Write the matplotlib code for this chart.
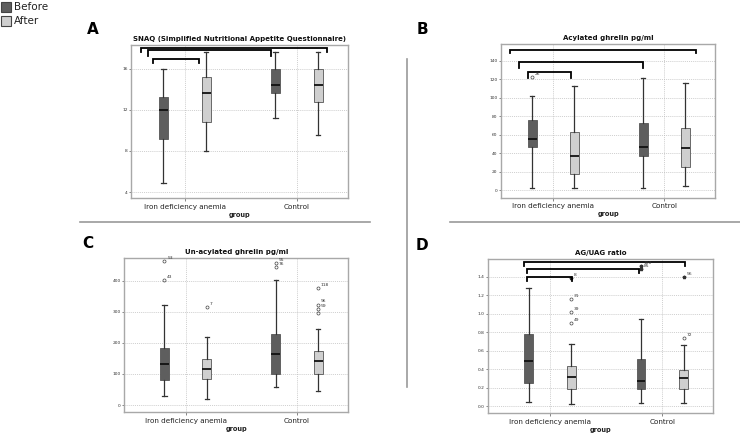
import matplotlib
matplotlib.use("Agg")
import matplotlib.pyplot as plt
from matplotlib.patches import Rectangle

W, H = 740, 433

groups = ["Iron deficiency anemia", "Control"]
series = ["Before", "After"]
colors = {"Before": "#5e5e5e", "After": "#cfcfcf"}

# Panel A: SNAQ
A_title = "SNAQ (Simplified Nutritional Appetite Questionnaire)"
A_ticks = [4, 8, 12, 16]
A_whislo = [4.85, 8.0, 11.2, 9.6]
A_q1 = [9.2, 10.8, 13.6, 12.8]
A_med = [12.0, 13.6, 14.4, 14.4]
A_q3 = [13.2, 15.2, 16.0, 16.0]
A_whishi = [16.0, 17.6, 17.6, 17.6]

# Panel B: Acylated ghrelin
B_title = "Acylated ghrelin pg/ml"
B_ticks = [0, 20, 40, 60, 80, 100, 120, 140]
B_whislo = [3, 2, 2, 4.6]
B_q1 = [47, 17.6, 37.5, 25]
B_med = [55.5, 37, 47, 45.5]
B_q3 = [76, 63, 73, 67]
B_whishi = [102, 112.6, 122, 116]
B_out = [(0, 123, "26", "o")]

# Panel C: Un-acylated ghrelin
C_title = "Un-acylated ghrelin pg/ml"
C_ticks = [0, 100, 200, 300, 400]
C_whislo = [29, 20, 57, 44]
C_q1 = [80, 83, 100, 101]
C_med = [131, 117, 164.5, 142]
C_q3 = [184, 147, 230, 174]
C_whishi = [322, 220, 402, 244]
C_out = [(0, 402, "43", "o"), (0, 464, "53", "o"), (1, 316, "7", "o"),
         (2, 446, "76", "o"), (2, 457, "95", "o"),
         (3, 376, "118", "o"), (3, 324, "96", "o"), (3, 310, "59", "o"), (3, 298, "", "o")]

# Panel D: AG/UAG ratio
D_title = "AG/UAG ratio"
D_ticks = [0.0, 0.2, 0.4, 0.6, 0.8, 1.0, 1.2, 1.4]
D_whislo = [0.04, 0.018, 0.032, 0.036]
D_q1 = [0.252, 0.187, 0.181, 0.187]
D_med = [0.484, 0.311, 0.268, 0.307]
D_q3 = [0.777, 0.43, 0.506, 0.39]
D_whishi = [1.278, 0.668, 0.943, 0.664]
D_out = [(1, 0.896, "49", "o"), (1, 1.015, "39", "o"), (1, 1.159, "31", "o"), (1, 1.383, "8", "*"),
         (2, 1.48, "85", "*"), (2, 1.52, "100", "*"),
         (3, 0.74, "72", "o"), (3, 1.40, "56", "*")]

fig = plt.figure(figsize=(W / 100, H / 100), dpi=100)
plt.rcParams['font.family'] = ['DejaVu Sans']


def add_ax(l, r, t, b):
    return fig.add_axes([l / W, 1 - b / H, (r - l) / W, (b - t) / H])


def panel(ax, title, ticks, whislo, q1, med, q3, whishi, xlim, ylim, tickfmt,
          outliers=(), brackets=()):
    off = 0.19
    pos = [0 - off, 0 + off, 1 - off, 1 + off]
    stats = []
    for i in range(4):
        stats.append(dict(whislo=whislo[i], q1=q1[i], med=med[i], q3=q3[i],
                          whishi=whishi[i], fliers=[]))
    bp = ax.bxp(stats, positions=pos, widths=0.08, patch_artist=True,
                showfliers=False,
                medianprops=dict(color="#111111", lw=1.3),
                whiskerprops=dict(color="#333333", lw=0.9),
                capprops=dict(color="#333333", lw=0.9),
                boxprops=dict(edgecolor="#555555", lw=0.6))
    for i, b in enumerate(bp["boxes"]):
        b.set_facecolor(colors[series[i % 2]])
    for (i, v, lab, m) in outliers:
        if m == "o":
            ax.plot(pos[i], v, marker="o", ms=2.2, mfc="none", mec="#444444", mew=0.5, clip_on=False)
        else:
            ax.plot(pos[i], v, marker="*", ms=2.5, color="#333333", clip_on=False)
        if lab:
            ax.annotate(lab, (pos[i], v), xytext=(2, 1.5), textcoords="offset points",
                        fontsize=3.2, color="#333333")
    for (x0, x1, yt, yd) in brackets:
        ax.plot([x0, x0, x1, x1], [yd, yt, yt, yd], color="black", lw=1.3,
                solid_joinstyle="miter", clip_on=False)
    ax.set_xlim(*xlim)
    ax.set_ylim(*ylim)
    ax.set_xticks([0, 1])
    ax.set_xticklabels(groups, fontsize=5.2, color="#222222")
    ax.set_yticks(ticks)
    ax.set_yticklabels([tickfmt(t) for t in ticks], fontsize=3.2, color="#333333")
    ax.tick_params(axis="y", length=1.5, width=0.5, pad=1, color="#555555")
    ax.tick_params(axis="x", length=2, width=0.5, pad=2, color="#555555")
    ax.grid(True, ls=(0, (1.5, 1.5)), lw=0.5, color="#bdbdbd")
    ax.set_axisbelow(True)
    for s in ax.spines.values():
        s.set_color("#a8a8a8")
        s.set_linewidth(1.0)
    ax.set_title(title, fontsize=5, fontweight="bold", pad=3, color="#111111")
    ax.set_xlabel("group", fontsize=4.8, fontweight="bold", labelpad=1.5, color="#222222")


axA = add_ax(131, 348.3, 45, 198.3)
panel(axA, A_title, A_ticks, A_whislo, A_q1, A_med, A_q3, A_whishi,
      (-0.48, 1.46), (3.4, 18.3), lambda t: f"{t:g}",
      brackets=[(-0.39, 1.27, 18.02, 17.63), (-0.33, 0.77, 17.79, 17.2), (-0.28, 0.13, 16.95, 16.56)])

axB = add_ax(501, 715.3, 44, 197.7)
panel(axB, B_title, B_ticks, B_whislo, B_q1, B_med, B_q3, B_whishi,
      (-0.47, 1.46), (-8.0, 158.4), lambda t: f"{t:g}", outliers=B_out,
      brackets=[(-0.385, 1.29, 151.9, 148.3), (-0.307, 0.813, 139.3, 132.1), (-0.226, 0.157, 128.4, 121.3)])

axC = add_ax(124.3, 348.3, 258.3, 412.3)
panel(axC, C_title, C_ticks, C_whislo, C_q1, C_med, C_q3, C_whishi,
      (-0.55, 1.46), (-23.5, 473), lambda t: f"{t:g}", outliers=C_out)

axD = add_ax(488.3, 713.3, 259.3, 413.3)
panel(axD, D_title, D_ticks, D_whislo, D_q1, D_med, D_q3, D_whishi,
      (-0.55, 1.454), (-0.079, 1.589), lambda t: f"{t:.1f}", outliers=D_out,
      brackets=[(-0.229, 1.202, 1.563, 1.514), (-0.202, 0.795, 1.484, 1.438), (-0.202, 0.193, 1.401, 1.354)])

# panel letters
for lab, x, y in [("A", 93, 30), ("B", 422, 29), ("C", 88, 243), ("D", 422, 245)]:
    fig.text(x / W, 1 - y / H, lab, fontsize=11, fontweight="bold", ha="center", va="center")

# separators
fig.add_artist(plt.Line2D([80 / W, 370 / W], [1 - 222 / H] * 2, color="#9a9a9a", lw=1.2))
fig.add_artist(plt.Line2D([450 / W, 740 / W], [1 - 222 / H] * 2, color="#9a9a9a", lw=1.2))
fig.add_artist(plt.Line2D([407 / W] * 2, [1 - 59 / H, 1 - 387 / H], color="#9a9a9a", lw=1.2))

# legend
for i, s in enumerate(series):
    y = 2 + i * 14
    fig.add_artist(Rectangle((1 / W, 1 - (y + 10) / H), 10 / W, 10 / H,
                             facecolor=colors[s], edgecolor="#444444", lw=0.8))
    fig.text(14 / W, 1 - (y + 5) / H, s, fontsize=7.5, va="center", ha="left", color="#222222")

fig.savefig("out.png", dpi=100)
